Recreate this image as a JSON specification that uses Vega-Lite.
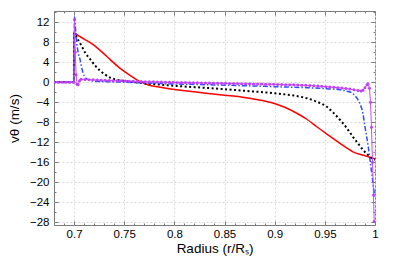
{
  "$schema": "https://vega.github.io/schema/vega-lite/v6.json",
  "width": 321,
  "height": 214,
  "autosize": {"type": "none"},
  "padding": {"left": 54, "top": 11, "right": 40, "bottom": 38},
  "background": "white",
  "config": {
    "view": {"stroke": "#7a7a7a", "strokeWidth": 1},
    "axis": {
      "domain": false,
      "labelFont": "Liberation Sans",
      "labelFontSize": 11.5,
      "labelColor": "#000000",
      "titleFont": "Liberation Sans",
      "titleFontSize": 13.5,
      "titleFontWeight": "normal",
      "titleColor": "#000000",
      "tickColor": "#7a7a7a",
      "gridColor": "#d8d8d8",
      "gridDash": [2, 2],
      "labelFlush": false
    }
  },
  "datasets": {
    "curves": [
      {"s": "red", "x": 0.68, "y": 0}, {"s": "red", "x": 0.6998, "y": 0}, {"s": "red", "x": 0.7, "y": 9.8},
      {"s": "red", "x": 0.705, "y": 9.2}, {"s": "red", "x": 0.71, "y": 8.6}, {"s": "red", "x": 0.719, "y": 7.5},
      {"s": "red", "x": 0.728, "y": 6.0}, {"s": "red", "x": 0.736, "y": 4.5}, {"s": "red", "x": 0.745, "y": 2.9},
      {"s": "red", "x": 0.7525, "y": 1.8}, {"s": "red", "x": 0.76, "y": 0.8}, {"s": "red", "x": 0.766, "y": 0.1},
      {"s": "red", "x": 0.775, "y": -0.6}, {"s": "red", "x": 0.786, "y": -1.0}, {"s": "red", "x": 0.802, "y": -1.5},
      {"s": "red", "x": 0.82, "y": -1.9}, {"s": "red", "x": 0.836, "y": -2.3}, {"s": "red", "x": 0.85, "y": -2.6},
      {"s": "red", "x": 0.8655, "y": -2.9}, {"s": "red", "x": 0.88, "y": -3.4}, {"s": "red", "x": 0.899, "y": -4.2},
      {"s": "red", "x": 0.91, "y": -5.0}, {"s": "red", "x": 0.922, "y": -6.2}, {"s": "red", "x": 0.932, "y": -7.4},
      {"s": "red", "x": 0.942, "y": -8.9}, {"s": "red", "x": 0.953, "y": -10.5}, {"s": "red", "x": 0.965, "y": -12.2},
      {"s": "red", "x": 0.978, "y": -13.9}, {"s": "red", "x": 0.99, "y": -14.7}, {"s": "red", "x": 1.0, "y": -15.3},

      {"s": "black", "x": 0.68, "y": 0}, {"s": "black", "x": 0.6998, "y": 0}, {"s": "black", "x": 0.7, "y": 9.8},
      {"s": "black", "x": 0.703, "y": 8.8}, {"s": "black", "x": 0.707, "y": 7.4}, {"s": "black", "x": 0.711, "y": 5.9},
      {"s": "black", "x": 0.716, "y": 4.6}, {"s": "black", "x": 0.721, "y": 3.3}, {"s": "black", "x": 0.726, "y": 2.3},
      {"s": "black", "x": 0.731, "y": 1.5}, {"s": "black", "x": 0.736, "y": 0.9}, {"s": "black", "x": 0.742, "y": 0.5},
      {"s": "black", "x": 0.7525, "y": 0.2}, {"s": "black", "x": 0.76, "y": 0.0}, {"s": "black", "x": 0.769, "y": -0.2},
      {"s": "black", "x": 0.786, "y": -0.5}, {"s": "black", "x": 0.802, "y": -0.75}, {"s": "black", "x": 0.836, "y": -1.2},
      {"s": "black", "x": 0.869, "y": -1.7}, {"s": "black", "x": 0.899, "y": -2.2}, {"s": "black", "x": 0.92, "y": -2.7},
      {"s": "black", "x": 0.932, "y": -3.2}, {"s": "black", "x": 0.942, "y": -3.9}, {"s": "black", "x": 0.952, "y": -4.9},
      {"s": "black", "x": 0.958, "y": -6.0}, {"s": "black", "x": 0.965, "y": -7.5}, {"s": "black", "x": 0.972, "y": -9.2},
      {"s": "black", "x": 0.978, "y": -10.9}, {"s": "black", "x": 0.983, "y": -12.2}, {"s": "black", "x": 0.988, "y": -13.5},
      {"s": "black", "x": 0.993, "y": -14.5}, {"s": "black", "x": 0.997, "y": -15.2}, {"s": "black", "x": 1.0, "y": -15.5},

      {"s": "blue", "x": 0.68, "y": 0}, {"s": "blue", "x": 0.6998, "y": 0}, {"s": "blue", "x": 0.7005, "y": 13.0},
      {"s": "blue", "x": 0.7015, "y": 10.5}, {"s": "blue", "x": 0.7027, "y": 7.8}, {"s": "blue", "x": 0.704, "y": 6.0},
      {"s": "blue", "x": 0.706, "y": 4.5}, {"s": "blue", "x": 0.7075, "y": 3.0}, {"s": "blue", "x": 0.709, "y": 1.8},
      {"s": "blue", "x": 0.711, "y": 1.0}, {"s": "blue", "x": 0.714, "y": 0.5}, {"s": "blue", "x": 0.72, "y": 0.2},
      {"s": "blue", "x": 0.73, "y": 0.1}, {"s": "blue", "x": 0.75, "y": 0.0}, {"s": "blue", "x": 0.77, "y": -0.15},
      {"s": "blue", "x": 0.8, "y": -0.35}, {"s": "blue", "x": 0.83, "y": -0.5}, {"s": "blue", "x": 0.869, "y": -0.7},
      {"s": "blue", "x": 0.9, "y": -0.9}, {"s": "blue", "x": 0.932, "y": -1.1}, {"s": "blue", "x": 0.955, "y": -1.35},
      {"s": "blue", "x": 0.965, "y": -1.5}, {"s": "blue", "x": 0.972, "y": -1.8}, {"s": "blue", "x": 0.978, "y": -2.3},
      {"s": "blue", "x": 0.982, "y": -3.2}, {"s": "blue", "x": 0.985, "y": -4.3}, {"s": "blue", "x": 0.988, "y": -6.3},
      {"s": "blue", "x": 0.99, "y": -8.9}, {"s": "blue", "x": 0.993, "y": -12.5}, {"s": "blue", "x": 0.995, "y": -15.5},
      {"s": "blue", "x": 0.997, "y": -18.5}, {"s": "blue", "x": 0.998, "y": -20.2}, {"s": "blue", "x": 1.0, "y": -23.0}
    ],
    "mag": [
      {"x": 0.68, "y": 0}, {"x": 0.684, "y": 0}, {"x": 0.688, "y": 0}, {"x": 0.692, "y": 0}, {"x": 0.696, "y": 0},
      {"x": 0.6998, "y": 0}, {"x": 0.7004, "y": 12.5}, {"x": 0.7012, "y": 6.0}, {"x": 0.702, "y": 1.5},
      {"x": 0.703, "y": -0.4}, {"x": 0.704, "y": -0.5}, {"x": 0.7055, "y": 0.3},
      {"x": 0.707, "y": 0.6}, {"x": 0.711, "y": 0.55}, {"x": 0.715, "y": 0.5}, {"x": 0.719, "y": 0.46},
      {"x": 0.723, "y": 0.42}, {"x": 0.727, "y": 0.39}, {"x": 0.731, "y": 0.36}, {"x": 0.735, "y": 0.33},
      {"x": 0.739, "y": 0.3}, {"x": 0.743, "y": 0.28}, {"x": 0.747, "y": 0.26}, {"x": 0.751, "y": 0.23},
      {"x": 0.755, "y": 0.2}, {"x": 0.759, "y": 0.18}, {"x": 0.763, "y": 0.15}, {"x": 0.767, "y": 0.13},
      {"x": 0.771, "y": 0.1}, {"x": 0.775, "y": 0.08}, {"x": 0.779, "y": 0.06}, {"x": 0.783, "y": 0.04},
      {"x": 0.787, "y": 0.02}, {"x": 0.791, "y": 0.0}, {"x": 0.795, "y": -0.02}, {"x": 0.799, "y": -0.04},
      {"x": 0.803, "y": -0.06}, {"x": 0.807, "y": -0.08}, {"x": 0.811, "y": -0.09}, {"x": 0.815, "y": -0.11},
      {"x": 0.819, "y": -0.12}, {"x": 0.823, "y": -0.14}, {"x": 0.827, "y": -0.15}, {"x": 0.831, "y": -0.17},
      {"x": 0.835, "y": -0.18}, {"x": 0.839, "y": -0.2}, {"x": 0.843, "y": -0.21}, {"x": 0.847, "y": -0.23},
      {"x": 0.851, "y": -0.24}, {"x": 0.855, "y": -0.26}, {"x": 0.859, "y": -0.27}, {"x": 0.863, "y": -0.29},
      {"x": 0.867, "y": -0.3}, {"x": 0.871, "y": -0.32}, {"x": 0.875, "y": -0.33}, {"x": 0.879, "y": -0.35},
      {"x": 0.883, "y": -0.37}, {"x": 0.887, "y": -0.38}, {"x": 0.891, "y": -0.4}, {"x": 0.895, "y": -0.42},
      {"x": 0.899, "y": -0.44}, {"x": 0.903, "y": -0.46}, {"x": 0.907, "y": -0.48}, {"x": 0.911, "y": -0.5},
      {"x": 0.915, "y": -0.52}, {"x": 0.919, "y": -0.54}, {"x": 0.923, "y": -0.57}, {"x": 0.927, "y": -0.6},
      {"x": 0.931, "y": -0.63}, {"x": 0.935, "y": -0.67}, {"x": 0.939, "y": -0.72}, {"x": 0.943, "y": -0.77},
      {"x": 0.947, "y": -0.83}, {"x": 0.951, "y": -0.89}, {"x": 0.955, "y": -0.96}, {"x": 0.959, "y": -1.03},
      {"x": 0.963, "y": -1.1}, {"x": 0.967, "y": -1.18}, {"x": 0.971, "y": -1.27}, {"x": 0.975, "y": -1.38},
      {"x": 0.979, "y": -1.5}, {"x": 0.983, "y": -1.65}, {"x": 0.986, "y": -1.75}, {"x": 0.988, "y": -1.6},
      {"x": 0.99, "y": -1.1}, {"x": 0.992, "y": -0.5}, {"x": 0.993, "y": -0.3}, {"x": 0.9945, "y": -1.2},
      {"x": 0.9955, "y": -4.0}, {"x": 0.9965, "y": -9.0}, {"x": 0.9975, "y": -16.0}, {"x": 0.9985, "y": -22.5},
      {"x": 0.9992, "y": -27.8}
    ]
  },
  "resolve": {"axis": {"x": "independent", "y": "independent"}},
  "layer": [
    {
      "data": {"name": "curves"},
      "transform": [{"filter": "datum.s === 'red'"}],
      "mark": {"type": "line", "color": "#ff0000", "strokeWidth": 1.5, "interpolate": "monotone", "clip": true},
      "encoding": {
        "x": {"field": "x", "type": "quantitative", "scale": {"domain": [0.68, 1.0], "nice": false, "zero": false},
          "axis": {"orient": "bottom", "values": [0.7, 0.75, 0.8, 0.85, 0.9, 0.95, 1], "format": "~g", "title": "Radius (r/Rₛ)", "grid": true, "tickSize": -4, "labelPadding": 7, "titlePadding": 2}},
        "y": {"field": "y", "type": "quantitative", "scale": {"domain": [-28.5, 14.2], "nice": false, "zero": false},
          "axis": {"orient": "left", "values": [12, 8, 4, 0, -4, -8, -12, -16, -20, -24, -28], "format": "~g", "title": "vθ (m/s)", "grid": true, "tickSize": -4, "labelPadding": 9, "titlePadding": 8}}
      }
    },
    {
      "data": {"name": "curves"},
      "transform": [{"filter": "datum.s === 'black'"}],
      "mark": {"type": "line", "color": "#000000", "strokeWidth": 2, "strokeDash": [2, 2.5], "interpolate": "monotone", "clip": true},
      "encoding": {
        "x": {"field": "x", "type": "quantitative",
          "axis": {"orient": "bottom", "values": [0.68, 0.69, 0.71, 0.72, 0.73, 0.74, 0.76, 0.77, 0.78, 0.79, 0.81, 0.82, 0.83, 0.84, 0.86, 0.87, 0.88, 0.89, 0.91, 0.92, 0.93, 0.94, 0.96, 0.97, 0.98, 0.99], "labels": false, "title": null, "grid": false, "tickSize": -2}},
        "y": {"field": "y", "type": "quantitative",
          "axis": {"orient": "left", "values": [14, 10, 6, 2, -2, -6, -10, -14, -18, -22, -26], "labels": false, "title": null, "grid": false, "tickSize": -2}}
      }
    },
    {
      "data": {"name": "curves"},
      "transform": [{"filter": "datum.s === 'blue'"}],
      "mark": {"type": "line", "color": "#2e4dff", "strokeWidth": 1.5, "strokeDash": [5, 2, 1.5, 2], "interpolate": "monotone", "clip": true},
      "encoding": {
        "x": {"field": "x", "type": "quantitative",
          "axis": {"orient": "top", "values": [0.7, 0.75, 0.8, 0.85, 0.9, 0.95, 1], "labels": false, "title": null, "grid": false, "tickSize": -4}},
        "y": {"field": "y", "type": "quantitative",
          "axis": {"orient": "right", "values": [12, 8, 4, 0, -4, -8, -12, -16, -20, -24, -28], "labels": false, "title": null, "grid": false, "tickSize": -4}}
      }
    },
    {
      "data": {"name": "mag"},
      "mark": {"type": "line", "color": "#c24bff", "strokeWidth": 1, "clip": true},
      "encoding": {
        "x": {"field": "x", "type": "quantitative",
          "axis": {"orient": "top", "values": [0.68, 0.69, 0.71, 0.72, 0.73, 0.74, 0.76, 0.77, 0.78, 0.79, 0.81, 0.82, 0.83, 0.84, 0.86, 0.87, 0.88, 0.89, 0.91, 0.92, 0.93, 0.94, 0.96, 0.97, 0.98, 0.99], "labels": false, "title": null, "grid": false, "tickSize": -2}},
        "y": {"field": "y", "type": "quantitative",
          "axis": {"orient": "right", "values": [14, 10, 6, 2, -2, -6, -10, -14, -18, -22, -26], "labels": false, "title": null, "grid": false, "tickSize": -2}}
      }
    },
    {
      "data": {"name": "mag"},
      "mark": {"type": "circle", "color": "#bf40ff", "size": 9, "opacity": 1, "clip": true},
      "encoding": {
        "x": {"field": "x", "type": "quantitative", "axis": null},
        "y": {"field": "y", "type": "quantitative", "axis": null}
      }
    }
  ]
}
